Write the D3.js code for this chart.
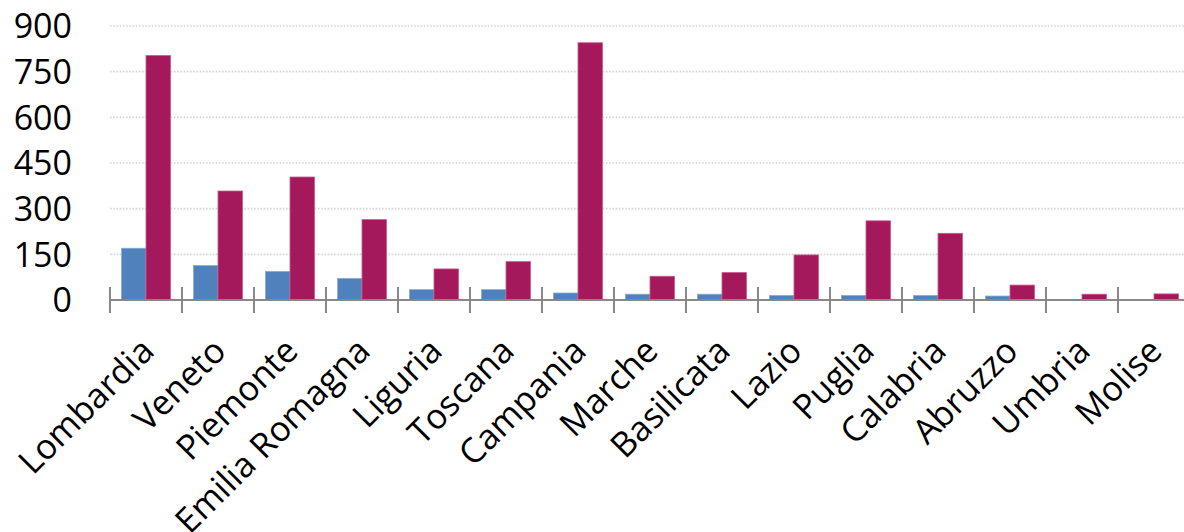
<!DOCTYPE html>
<html>
<head>
<meta charset="utf-8">
<script src="https://cdn.jsdelivr.net/npm/d3@7"></script>
<style>
  html, body { margin: 0; padding: 0; background: #ffffff; }
  svg { display: block; }
  text { font-family: "Open Sans", "Liberation Sans", sans-serif; fill: #000; }
</style>
</head>
<body>
<svg id="chart" width="1184" height="532"></svg>
<script>
// Regions on the category axis
const regions = ["Lombardia", "Veneto", "Piemonte", "Emilia Romagna", "Liguria", "Toscana",
  "Campania", "Marche", "Basilicata", "Lazio", "Puglia", "Calabria", "Abruzzo", "Umbria", "Molise"];

// First series (blue bars)
const seriesBlue = [170, 113, 94, 71, 34, 34, 23, 19, 19, 15, 15, 15, 13, 1, 1];
// Second series (crimson bars)
const seriesRed = [803, 358, 404, 264, 102, 126, 845, 78, 90, 148, 260, 219, 49, 19, 20];

// Value-axis tick labels
const yTicks = [0, 150, 300, 450, 600, 750, 900];

const seriesKeys = ["blue", "red"];
const seriesValues = { blue: seriesBlue, red: seriesRed };
const fills = { blue: "#4f81bd", red: "#a3195b" };
const edges = { blue: "#8aaad6", red: "#c8578a" };

const svg = d3.select("#chart");

const x0 = d3.scaleBand().domain(regions).range([110, 1190]).padding(0);
const x1 = d3.scaleBand().domain(seriesKeys).range([0, x0.bandwidth()]).paddingInner(0).paddingOuter(0.47);
const y = d3.scaleLinear().domain([0, 900]).range([300, 26]);

// Dotted horizontal gridlines
svg.append("g")
  .selectAll("line")
  .data(yTicks.filter(d => d > 0))
  .join("line")
  .attr("x1", 110).attr("x2", 1184)
  .attr("y1", d => y(d)).attr("y2", d => y(d))
  .attr("stroke", "#d4d4d4")
  .attr("stroke-width", 1.6)
  .attr("stroke-dasharray", "1.6,1.6");

// Value axis labels
svg.append("g")
  .selectAll("text")
  .data(yTicks)
  .join("text")
  .attr("x", 72)
  .attr("y", d => y(d))
  .attr("dy", "0.36em")
  .attr("text-anchor", "end")
  .style("font-size", "34px")
  .text(d => d);

// Bars
const rows = regions.map((r, i) => ({ region: r, i }));
const groups = svg.append("g")
  .selectAll("g")
  .data(rows)
  .join("g")
  .attr("transform", d => `translate(${x0(d.region)},0)`);

groups.selectAll("rect")
  .data(d => seriesKeys.map(k => ({ key: k, value: seriesValues[k][d.i] })))
  .join("rect")
  .attr("x", d => x1(d.key))
  .attr("width", x1.bandwidth())
  .attr("y", d => y(d.value))
  .attr("height", d => y(0) - y(d.value))
  .attr("fill", d => fills[d.key])
  .attr("stroke", d => edges[d.key])
  .attr("stroke-width", 0.8);

// Category axis line and boundary ticks
const axis = svg.append("g");
axis.append("line")
  .attr("x1", 110).attr("x2", 1184)
  .attr("y1", y(0)).attr("y2", y(0))
  .attr("stroke", "#888888").attr("stroke-width", 2);
axis.selectAll("line.tick")
  .data(regions)
  .join("line")
  .attr("class", "tick")
  .attr("x1", d => x0(d)).attr("x2", d => x0(d))
  .attr("y1", y(0) - 13).attr("y2", y(0) + 13)
  .attr("stroke", "#888888").attr("stroke-width", 2);

// Rotated category labels
axis.selectAll("text")
  .data(regions)
  .join("text")
  .attr("text-anchor", "end")
  .style("font-size", "34.5px")
  .attr("transform", d => `translate(${x0(d) + x0.bandwidth() / 2 + 10},353) rotate(-45)`)
  .text(d => d);
</script>
</body>
</html>
